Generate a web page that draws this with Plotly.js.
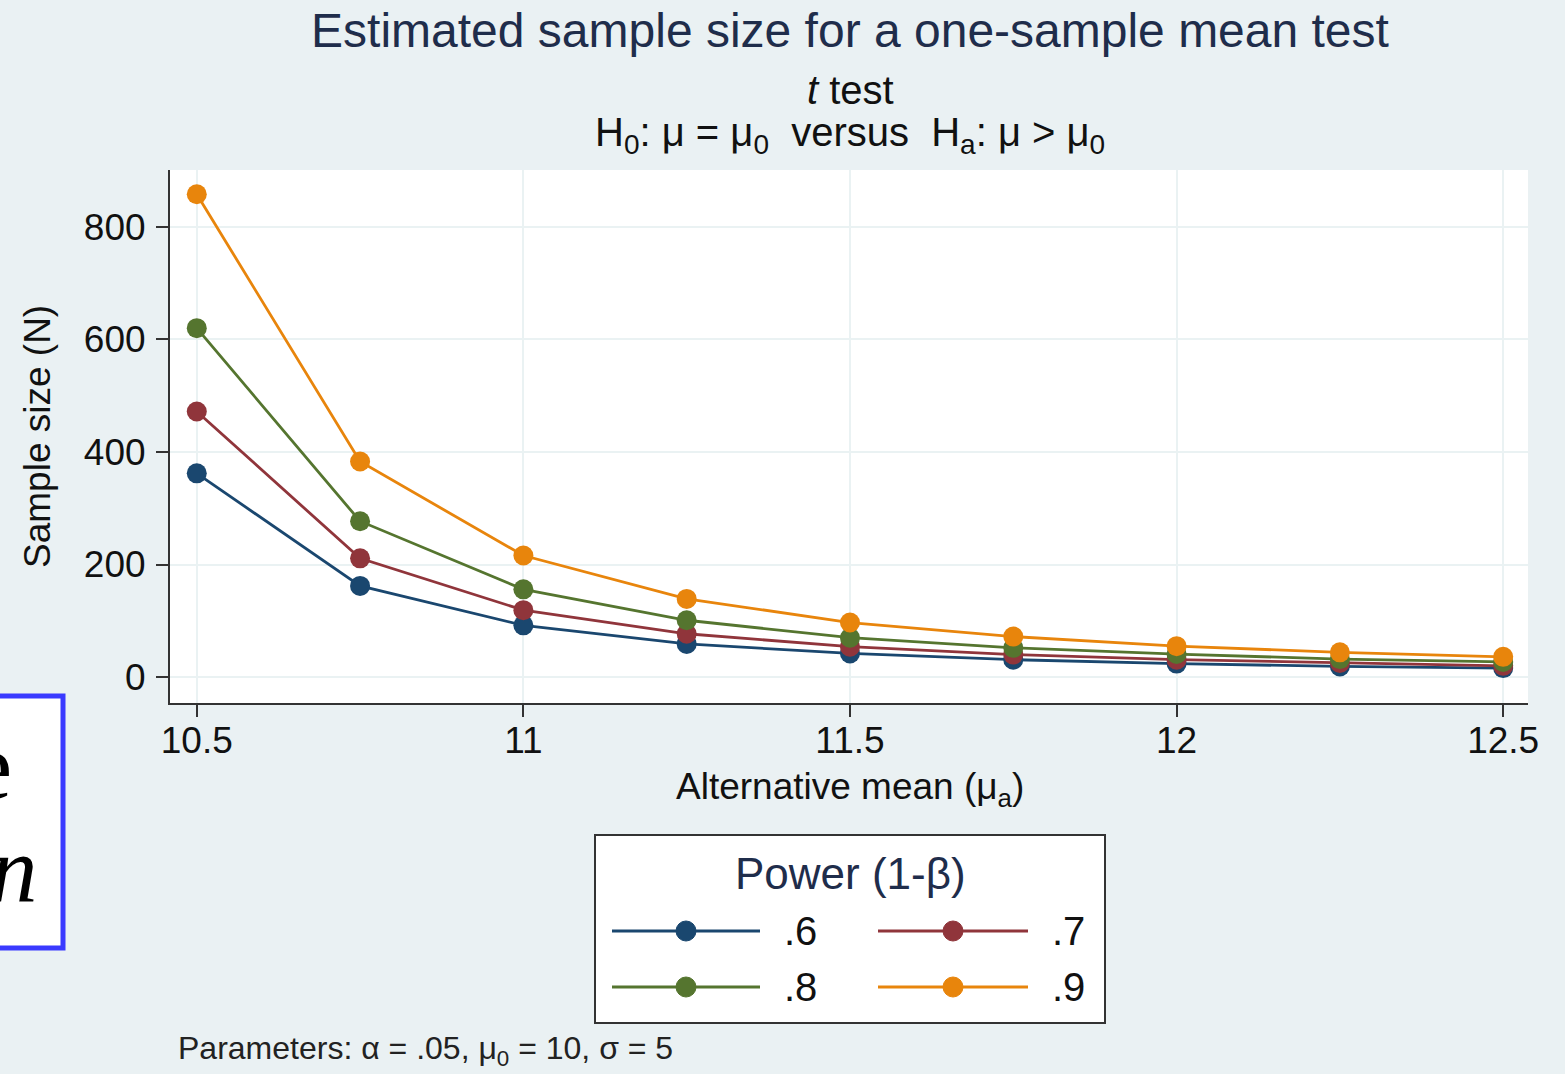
<!DOCTYPE html>
<html>
<head>
<meta charset="utf-8">
<script src="https://cdn.plot.ly/plotly-3.0.1.min.js"></script>
<style>html,body{margin:0;padding:0;background:#eaf1f3;}#chart{width:1565px;height:1074px;}</style>
</head>
<body>
<div id="chart"></div>
<script>
// ---- data ----
const altMean = [10.5, 10.75, 11, 11.25, 11.5, 11.75, 12, 12.25, 12.5];
const power60 = [362, 162, 92, 59, 42, 31, 24, 19, 16];
const power70 = [472, 211, 119, 77, 54, 40, 31, 25, 20];
const power80 = [620, 277, 156, 101, 70, 52, 41, 32, 27];
const power90 = [858, 383, 216, 139, 97, 72, 55, 44, 36];
const powerLabels = ['.6', '.7', '.8', '.9'];
const xTicks = [10.5, 11, 11.5, 12, 12.5];
const xTickText = ['10.5', '11', '11.5', '12', '12.5'];
const yTicks = [0, 200, 400, 600, 800];
const yTickText = ['0', '200', '400', '600', '800'];

// ---- styles ----
const colors = ['#1a476f', '#90353b', '#55752f', '#e8850c'];
const FONT = 'Liberation Sans, Arial, sans-serif';
const TITLE_COLOR = '#1f2d4b';
const W = 1565, H = 1074;
const M = {l: 170, r: 37, t: 170, b: 371};
const PW = W - M.l - M.r, PH = H - M.t - M.b;
const X = px => (px - M.l) / PW;
const Y = py => (H - M.b - py) / PH;

const series = [power60, power70, power80, power90];
const traces = series.map((vals, i) => ({
  type: 'scatter', mode: 'lines+markers',
  x: altMean, y: vals, name: powerLabels[i],
  line: {color: colors[i], width: 2.8},
  marker: {color: colors[i], size: 20},
  showlegend: false, hoverinfo: 'skip', cliponaxis: false
}));

const shapes = [];
const annotations = [];

// Legend box (manual, Stata style)
shapes.push({type: 'rect', xref: 'paper', yref: 'paper', x0: X(595), x1: X(1105), y0: Y(1023), y1: Y(835),
  line: {color: '#333333', width: 2}, fillcolor: '#ffffff', layer: 'below'});
annotations.push({xref: 'paper', yref: 'paper', x: X(850), y: Y(873), text: 'Power (1-β)', showarrow: false,
  xanchor: 'center', yanchor: 'middle', font: {family: FONT, size: 44, color: TITLE_COLOR}});
const legPos = [
  {lx0: 612, lx1: 760, cy: 931, tx: 782},
  {lx0: 878, lx1: 1028, cy: 931, tx: 1050},
  {lx0: 612, lx1: 760, cy: 987, tx: 782},
  {lx0: 878, lx1: 1028, cy: 987, tx: 1050}
];
legPos.forEach((p, i) => {
  shapes.push({type: 'line', xref: 'paper', yref: 'paper', x0: X(p.lx0), x1: X(p.lx1), y0: Y(p.cy), y1: Y(p.cy),
    line: {color: colors[i], width: 3}});
  const mx = (p.lx0 + p.lx1) / 2, r = 10;
  shapes.push({type: 'circle', xref: 'paper', yref: 'paper', x0: X(mx - r), x1: X(mx + r), y0: Y(p.cy + r), y1: Y(p.cy - r),
    line: {color: colors[i], width: 1}, fillcolor: colors[i]});
  annotations.push({xref: 'paper', yref: 'paper', x: X(p.tx), y: Y(p.cy), text: powerLabels[i], showarrow: false,
    xanchor: 'left', yanchor: 'middle', font: {family: FONT, size: 40, color: '#111111'}});
});

// Subtitles
annotations.push({xref: 'paper', yref: 'paper', x: X(850), y: Y(90), text: '<i>t</i> test', showarrow: false,
  xanchor: 'center', yanchor: 'middle', font: {family: FONT, size: 40, color: '#111111'}});
annotations.push({xref: 'paper', yref: 'paper', x: X(850), y: Y(135),
  text: 'H<sub>0</sub>: μ = μ<sub>0</sub>  versus  H<sub>a</sub>: μ > μ<sub>0</sub>', showarrow: false,
  xanchor: 'center', yanchor: 'middle', font: {family: FONT, size: 40, color: '#111111'}});

// Axis titles
annotations.push({xref: 'paper', yref: 'paper', x: X(850), y: Y(789), text: 'Alternative mean (μ<sub>a</sub>)', showarrow: false,
  xanchor: 'center', yanchor: 'middle', font: {family: FONT, size: 37, color: '#111111'}});
annotations.push({xref: 'paper', yref: 'paper', x: X(37), y: Y(437), text: 'Sample size (N)', showarrow: false, textangle: -90,
  xanchor: 'center', yanchor: 'middle', font: {family: FONT, size: 37, color: '#111111'}});

// Footnote
annotations.push({xref: 'paper', yref: 'paper', x: X(176), y: Y(1050),
  text: 'Parameters: α = .05, μ<sub>0</sub> = 10, σ = 5', showarrow: false,
  xanchor: 'left', yanchor: 'middle', font: {family: FONT, size: 32, color: '#222222'}});

// Cropped overlay box on the left
shapes.push({type: 'rect', xref: 'paper', yref: 'paper', x0: X(-20), x1: X(63), y0: Y(948), y1: Y(696),
  line: {color: '#3a3aff', width: 5}, fillcolor: '#ffffff'});
annotations.push({xref: 'paper', yref: 'paper', x: X(14), y: Y(766), text: 'e', showarrow: false,
  xanchor: 'right', yanchor: 'middle', font: {family: 'Liberation Serif, serif', size: 95, color: '#000000'}});
annotations.push({xref: 'paper', yref: 'paper', x: X(40), y: Y(870), text: '<i>n</i>', showarrow: false,
  xanchor: 'right', yanchor: 'middle', font: {family: 'Liberation Serif, serif', size: 95, color: '#000000'}});

const axisCommon = {
  showline: true, linecolor: '#333333', linewidth: 2,
  ticks: 'outside', ticklen: 12, tickwidth: 2, tickcolor: '#333333',
  showgrid: true, gridcolor: '#eaf2f3', gridwidth: 2, zeroline: false,
  tickfont: {family: FONT, size: 37, color: '#111111'},
  fixedrange: true
};

const layout = {
  width: W, height: H,
  margin: M,
  paper_bgcolor: '#eaf1f3', plot_bgcolor: '#ffffff',
  font: {family: FONT},
  title: {text: 'Estimated sample size for a one-sample mean test', x: X(850), xref: 'paper', xanchor: 'center',
    y: 1 - 30 / H, yanchor: 'middle', font: {family: FONT, size: 48, color: TITLE_COLOR}},
  xaxis: Object.assign({}, axisCommon, {range: [10.459, 12.538], tickvals: xTicks, ticktext: xTickText, ticklabelstandoff: -8}),
  yaxis: Object.assign({}, axisCommon, {range: [-46, 901], tickvals: yTicks, ticktext: yTickText, ticklabelstandoff: 3}),
  shapes: shapes,
  annotations: annotations,
  showlegend: false
};

Plotly.newPlot('chart', traces, layout, {staticPlot: true, displayModeBar: false});
</script>
</body>
</html>
